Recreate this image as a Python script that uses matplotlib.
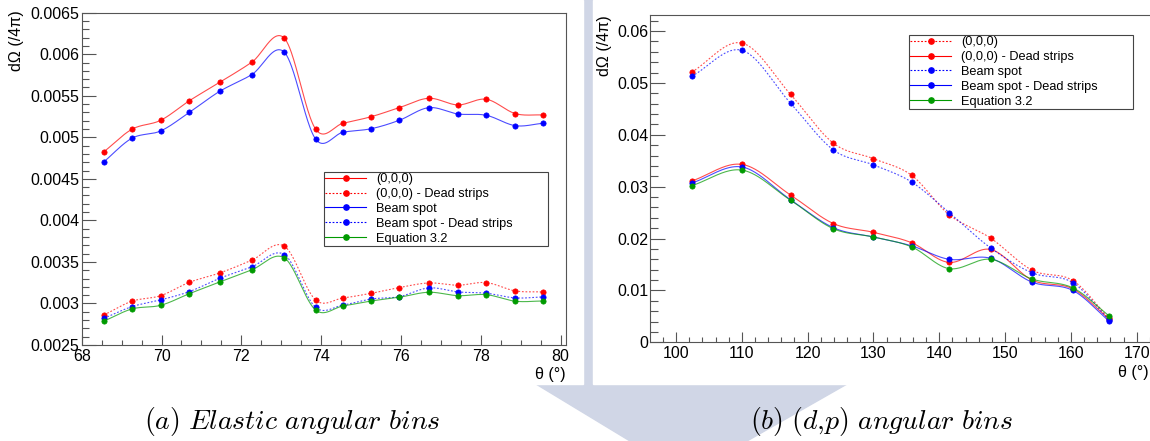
import numpy as np
import matplotlib
matplotlib.use("Agg")
import matplotlib.pyplot as plt
from matplotlib.patches import Polygon, Rectangle
from matplotlib.lines import Line2D
from matplotlib.ticker import MultipleLocator, FuncFormatter

plt.rcParams['font.family'] = ['Liberation Sans', 'DejaVu Sans']
plt.rcParams['mathtext.fontset'] = 'cm'

# (a) elastic angular bins
theta_el = [68.56, 69.26, 69.98, 70.70, 71.46, 72.26, 73.08, 73.86,
            74.55, 75.26, 75.96, 76.70, 77.43, 78.14, 78.87, 79.56]
el_000 = [0.004827, 0.005097, 0.005205, 0.005441, 0.005662, 0.005903, 0.006192, 0.005100,
          0.005169, 0.005249, 0.005357, 0.005470, 0.005390, 0.005458, 0.005285, 0.005269]
el_000_dead = [0.002862, 0.003027, 0.003094, 0.003255, 0.003367, 0.003520, 0.003689, 0.003043,
               0.003067, 0.003123, 0.003191, 0.003247, 0.003220, 0.003251, 0.003151, 0.003139]
el_beam = [0.004707, 0.004989, 0.005077, 0.005301, 0.005554, 0.005754, 0.006023, 0.004980,
           0.005061, 0.005104, 0.005205, 0.005357, 0.005281, 0.005265, 0.005140, 0.005169]
el_beam_dead = [0.002822, 0.002962, 0.003043, 0.003143, 0.003303, 0.003440, 0.003588, 0.002954,
                0.002982, 0.003054, 0.003082, 0.003187, 0.003139, 0.003123, 0.003067, 0.003079]
el_eq = [0.002788, 0.002934, 0.002978, 0.003118, 0.003259, 0.003404, 0.003548, 0.002922,
         0.002970, 0.003030, 0.003075, 0.003135, 0.003094, 0.003106, 0.003027, 0.003030]

# (b) (d,p) angular bins
theta_dp = [102.4, 110.0, 117.4, 123.9, 130.0, 135.8, 141.5, 147.8, 154.1, 160.3, 165.8]
dp_000 = [0.0521, 0.0577, 0.0478, 0.0384, 0.0354, 0.0322, 0.0246, 0.0201, 0.0139, 0.0119, 0.0046]
dp_000_dead = [0.0311, 0.0343, 0.0284, 0.0229, 0.0212, 0.0192, 0.0154, 0.0179, 0.0120, 0.0103, 0.0045]
dp_beam = [0.0513, 0.0563, 0.0461, 0.0371, 0.0342, 0.0309, 0.0250, 0.0182, 0.0134, 0.0115, 0.0043]
dp_beam_dead = [0.0307, 0.0338, 0.0275, 0.0221, 0.0203, 0.0186, 0.0160, 0.0162, 0.0116, 0.0100, 0.0041]
dp_eq = [0.0302, 0.0332, 0.0274, 0.0219, 0.0203, 0.0184, 0.0142, 0.0160, 0.0122, 0.0105, 0.0051]

labels = ['(0,0,0)', '(0,0,0) - Dead strips', 'Beam spot', 'Beam spot - Dead strips', 'Equation 3.2']

W, H = 1150, 441
RED, BLUE, GREEN = '#ff0000', '#0000ff', '#009a00'
SOLID, DOT = '-', (0, (1.6, 1.6))


def fx(x):
    return x / W


def fy(y):
    return 1 - y / H


def smooth(x, y, n=40):
    # Catmull-Rom style Hermite curve through the points (like ROOT's "C" option)
    x = np.asarray(x, float)
    y = np.asarray(y, float)
    m = np.empty_like(y)
    m[1:-1] = (y[2:] - y[:-2]) / (x[2:] - x[:-2])
    m[0] = (y[1] - y[0]) / (x[1] - x[0])
    m[-1] = (y[-1] - y[-2]) / (x[-1] - x[-2])
    xs, ys = [], []
    for i in range(len(x) - 1):
        h = x[i + 1] - x[i]
        t = np.linspace(0, 1, n, endpoint=(i == len(x) - 2))
        h00 = 2 * t**3 - 3 * t**2 + 1
        h10 = t**3 - 2 * t**2 + t
        h01 = -2 * t**3 + 3 * t**2
        h11 = t**3 - t**2
        xs.append(x[i] + t * h)
        ys.append(h00 * y[i] + h10 * h * m[i] + h01 * y[i + 1] + h11 * h * m[i + 1])
    return np.concatenate(xs), np.concatenate(ys)


def draw(ax, x, y, color, ls):
    xs, ys = smooth(x, y)
    ax.plot(xs, ys, color=color, lw=0.8, ls=ls, alpha=0.7)
    ax.plot(x, y, 'o', color=color, ms=3.8, mec=color, mew=0.5)


def style(ax, xmaj, xmin, ymaj, ymin, ylen):
    ax.xaxis.set_major_locator(MultipleLocator(xmaj))
    ax.xaxis.set_minor_locator(MultipleLocator(xmin))
    ax.yaxis.set_major_locator(MultipleLocator(ymaj))
    ax.yaxis.set_minor_locator(MultipleLocator(ymin))
    ax.yaxis.set_major_formatter(FuncFormatter(lambda v, p: '%g' % round(v, 6)))
    ax.tick_params(which='both', direction='in', top=False, right=False,
                   color='#555555', labelsize=11.5, width=0.8)
    ax.tick_params(axis='x', which='major', length=7.2, pad=3)
    ax.tick_params(axis='x', which='minor', length=3.6)
    ax.tick_params(axis='y', which='major', length=ylen, pad=1.5)
    ax.tick_params(axis='y', which='minor', length=ylen / 2)
    for s in ax.spines.values():
        s.set_color('#555555')
        s.set_linewidth(0.8)


def legend(ax, styles, box):
    handles = [Line2D([], [], color=c, ls=ls, lw=0.8, marker='o', ms=3.8) for c, ls in styles]
    leg = ax.legend(handles, labels, loc='upper left', bbox_to_anchor=box,
                    bbox_transform=ax.figure.transFigure, mode='expand', fontsize=9.2,
                    fancybox=False, edgecolor='#444444', framealpha=1, borderpad=0.1,
                    labelspacing=0.22, handlelength=3.2, handletextpad=0.8,
                    borderaxespad=0, numpoints=1)
    leg.get_frame().set_linewidth(0.8)


fig = plt.figure(figsize=(W / 100, H / 100), dpi=100)

# page watermark showing between the two panels
fig.patches.append(Polygon([(fx(480), fy(0)), (fx(900), fy(0)), (fx(847), fy(384)),
                            (fx(747), fy(441)), (fx(630), fy(441)), (fx(536), fy(384))],
                           closed=True, transform=fig.transFigure, color='#d0d6e6', zorder=-3))
fig.patches.append(Rectangle((0, fy(384)), fx(583), 1 - fy(384), transform=fig.transFigure,
                             color='white', zorder=-2))
fig.patches.append(Rectangle((fx(593), fy(384)), 1, 1 - fy(384), transform=fig.transFigure,
                             color='white', zorder=-2))

# (a)
ax1 = fig.add_axes([fx(81.7), fy(345), fx(565.7 - 81.7), (345 - 12.7) / H])
draw(ax1, theta_el, el_000, RED, SOLID)
draw(ax1, theta_el, el_000_dead, RED, DOT)
draw(ax1, theta_el, el_beam, BLUE, SOLID)
draw(ax1, theta_el, el_beam_dead, BLUE, DOT)
draw(ax1, theta_el, el_eq, GREEN, SOLID)
ax1.set_xlim(68, 80.13)
ax1.set_ylim(0.0025, 0.0065)
style(ax1, 2, 0.5, 0.0005, 0.0001, 10.4)
legend(ax1, [(RED, SOLID), (RED, DOT), (BLUE, SOLID), (BLUE, DOT), (GREEN, SOLID)],
       (fx(324), fy(243), fx(224), 71 / H))

# (b)
ax2 = fig.add_axes([fx(650.3), fy(342.3), fx(1152 - 650.3), (342.3 - 15) / H])
draw(ax2, theta_dp, dp_000, RED, DOT)
draw(ax2, theta_dp, dp_000_dead, RED, SOLID)
draw(ax2, theta_dp, dp_beam, BLUE, DOT)
draw(ax2, theta_dp, dp_beam_dead, BLUE, SOLID)
draw(ax2, theta_dp, dp_eq, GREEN, SOLID)
ax2.set_xlim(96.09, 172.33)
ax2.set_ylim(0, 0.0631)
style(ax2, 10, 2, 0.01, 0.002, 10.8)
legend(ax2, [(RED, DOT), (RED, SOLID), (BLUE, DOT), (BLUE, SOLID), (GREEN, SOLID)],
       (fx(909), fy(108), fx(224), 73 / H))

# axis titles, ROOT style at the ends of the axes
fig.text(fx(17), fy(10), 'dΩ (/4π)', rotation=90, ha='center', va='top', fontsize=11.5)
fig.text(fx(605), fy(15), 'dΩ (/4π)', rotation=90, ha='center', va='top', fontsize=11.5)
fig.text(fx(566), fy(375), 'θ (°)', ha='right', va='center', fontsize=11.5)
fig.text(fx(1149), fy(373), 'θ (°)', ha='right', va='center', fontsize=11.5)

# captions
fig.text(fx(292), fy(421), r'$\mathit{(a)\ Elastic\ angular\ bins}$',
         ha='center', va='center', fontsize=20)
fig.text(fx(882), fy(421), r'$\mathit{(b)\ (d{,}p)\ angular\ bins}$',
         ha='center', va='center', fontsize=20)

fig.savefig('out.png', dpi=100)
